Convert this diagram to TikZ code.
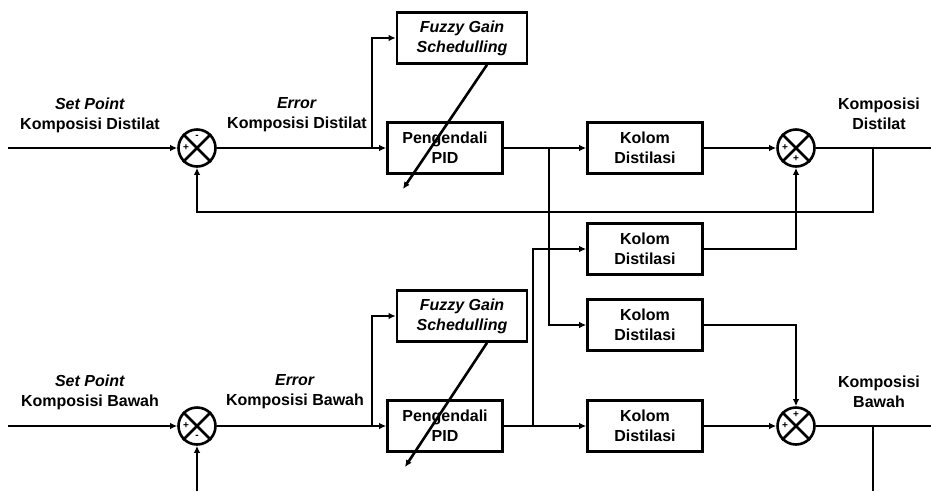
\documentclass[tikz,border=0pt]{standalone}
\usepackage{fontspec}
\setmainfont{Liberation Sans}
\usetikzlibrary{arrows.meta}

\tikzstyle{blok}=[draw, line width=2.6, minimum width=115, minimum height=51, inner sep=0, align=center, font=\bfseries\fontsize{16}{20}\selectfont]
\tikzstyle{fuzzybox}=[blok, minimum width=130, font=\bfseries\itshape\fontsize{16}{20}\selectfont]
\tikzstyle{sumnode}=[circle, draw, line width=2.6, minimum size=37, inner sep=0]
\tikzstyle{sign}=[inner sep=0, font=\bfseries\fontsize{10}{10}\selectfont]
\tikzstyle{lbl}=[align=center, inner sep=0, font=\bfseries\fontsize{16}{20}\selectfont]
\tikzstyle{wire}=[line width=2.6]
\newcommand{\sumcross}[1]{
  \draw[line width=2.6] (#1.north west) -- (#1.south east);
  \draw[line width=2.6] (#1.north east) -- (#1.south west);
}

\begin{document}
\begin{tikzpicture}[x=1pt, y=-1pt, >={Latex[length=7,width=6.5]}]
      \useasboundingbox (0,0) rectangle (931,491);

      % distilat loop
      \node[sumnode] (S1) at (197,148) {};
      \sumcross{S1}
      \node[sign] (s1a) at ([yshift=11]S1.center) {-};
      \node[sign] (s1b) at ([xshift=-11]S1.center) {+};
      \node[fuzzybox] (F1) at (462,38) {Fuzzy Gain\\Schedulling};
      \node[blok] (P1) at (445,148) {Pengendali\\PID};
      \node[blok] (K1) at (645,148) {Kolom\\Distilasi};
      \node[sumnode] (S2) at (796,148) {};
      \sumcross{S2}
      \node[sign] (s2a) at ([xshift=-11]S2.center) {+};
      \node[sign] (s2b) at ([yshift=-11]S2.center) {+};

      % cross coupling
      \node[blok] (K2) at (645,249) {Kolom\\Distilasi};
      \node[blok] (K3) at (645,325) {Kolom\\Distilasi};

      % bawah loop
      \node[sumnode] (S3) at (197,426) {};
      \sumcross{S3}
      \node[sign] (s3a) at ([xshift=-11]S3.center) {+};
      \node[sign] (s3b) at ([yshift=-11]S3.center) {-};
      \node[fuzzybox] (F2) at (462,316) {Fuzzy Gain\\Schedulling};
      \node[blok] (P2) at (445,426) {Pengendali\\PID};
      \node[blok] (K4) at (645,426) {Kolom\\Distilasi};
      \node[sumnode] (S4) at (796,426) {};
      \sumcross{S4}
      \node[sign] (s4a) at ([xshift=-11]S4.center) {+};
      \node[sign] (s4b) at ([yshift=11]S4.center) {+};

      % labels
      \node[lbl] (L1) at (90,115) {\textit{Set Point}\\Komposisi Distilat};
      \node[lbl] (L2) at (297,115) {\textit{Error}\\Komposisi Distilat};
      \node[lbl] (L3) at (879,114) {Komposisi\\Distilat};
      \node[lbl] (L4) at (90,392) {\textit{Set Point}\\Komposisi Bawah};
      \node[lbl] (L5) at (295,392) {\textit{Error}\\Komposisi Bawah};
      \node[lbl] (L6) at (879,392) {Komposisi\\Bawah};

      \coordinate (in1) at (8,148);
      \coordinate (J1) at (372,148);
      \coordinate (J2) at (549,148);
      \coordinate (J3) at (873,148);
      \coordinate (out1) at (931,148);
      \coordinate (FB1) at (873,212);
      \coordinate (G1) at (403,189);
      \coordinate (in2) at (8,426);
      \coordinate (J4) at (533,426);
      \coordinate (J5) at (873,426);
      \coordinate (out2) at (931,426);
      \coordinate (end2) at (873,491);
      \coordinate (fb2) at (197,491);
      \coordinate (G2) at (405,467);

      \draw[wire, ->] (in1) -- (S1.west);
      \draw[wire, ->] (S1.east) -- (P1.west);
      \draw[wire, ->] (J1) |- (F1.west);
      \draw[wire, ->] ([xshift=25]F1.south) -- (G1);
      \draw[wire, ->] (P1.east) -- (K1.west);
      \draw[wire, ->] (J2) |- (K3.west);
      \draw[wire, ->] (K1.east) -- (S2.west);
      \draw[wire] (S2.east) -- (out1);
      \draw[wire, ->] (J3) -- (FB1) -| (S1.south);
      \draw[wire, ->] (K2.east) -| (S2.south);
      \draw[wire, ->] (K3.east) -| (S4.north);

      \draw[wire, ->] (in2) -- (S3.west);
      \draw[wire, ->] (fb2) -- (S3.south);
      \draw[wire, ->] (S3.east) -- (P2.west);
      \draw[wire, ->] (J1 |- S3) |- (F2.west);
      \draw[wire, ->] ([xshift=25]F2.south) -- (G2);
      \draw[wire, ->] (P2.east) -- (K4.west);
      \draw[wire, ->] (J4) |- (K2.west);
      \draw[wire, ->] (K4.east) -- (S4.west);
      \draw[wire] (S4.east) -- (out2);
      \draw[wire] (J5) -- (end2);
\end{tikzpicture}
\end{document}
